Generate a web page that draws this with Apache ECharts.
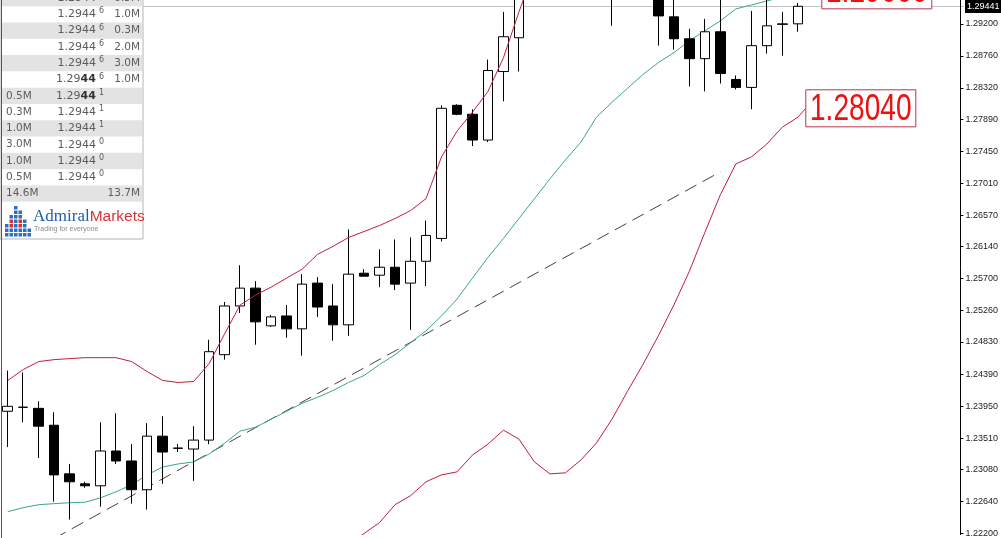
<!DOCTYPE html>
<html><head><meta charset="utf-8">
<script src="https://cdn.jsdelivr.net/npm/echarts@6/dist/echarts.min.js"></script>
<style>html,body{margin:0;padding:0;background:#fff;overflow:hidden}#c{width:1001px;height:538px}</style>
</head><body><div id="c"></div>
<script>
// ---- data ----
const categories = Array.from({length: 62}, (_, i) => 'Bar ' + (i + 1));
const opens = [
1.23879,1.23933,1.23919,1.23687,1.23019,1.22882,1.22855,1.23333,1.23196,1.22801,
1.23537,1.23374,1.23360,1.23483,1.24656,1.25325,1.25570,1.25052,1.25188,1.25011,
1.25639,1.25325,1.25066,1.25775,1.25748,1.25857,1.25639,1.25939,1.26253,1.28081,
1.27958,1.27604,1.28545,1.29009,1.2970,1.3005,1.3040,1.3075,1.3090,1.3060,
1.3005,1.3030,1.3010,1.29296,1.28995,1.28722,1.29091,1.28436,1.28327,1.28900,
1.29193,1.29200];
const closes = [
1.23947,1.23935,1.23674,1.23005,1.22910,1.22855,1.23333,1.23196,1.22801,1.23537,
1.23319,1.23370,1.23483,1.24697,1.25325,1.25570,1.25107,1.25175,1.25011,1.25625,
1.25311,1.25066,1.25762,1.25734,1.25857,1.25625,1.25939,1.26294,1.28040,1.27958,
1.27604,1.28559,1.29023,1.2970,1.3005,1.3040,1.3075,1.3090,1.3060,1.3005,
1.3030,1.3010,1.29309,1.28995,1.28722,1.29091,1.28518,1.28327,1.28900,1.29173,
1.29200,1.29441];
const lows = [
1.23387,1.23728,1.23237,1.22637,1.22391,1.22828,1.22569,1.23155,1.22610,1.22528,
1.22882,1.23319,1.22923,1.23428,1.24588,1.25229,1.24793,1.25038,1.24888,1.24643,
1.25175,1.24847,1.24916,1.25734,1.25584,1.25543,1.24997,1.25598,1.26212,1.27945,
1.27522,1.27576,1.28136,1.28545,1.2960,1.2990,1.3030,1.3060,1.3045,1.29173,
1.2990,1.2975,1.28900,1.28845,1.28340,1.28272,1.28381,1.28299,1.28027,1.28791,
1.28763,1.29091];
const highs = [
1.24438,1.24411,1.24015,1.23865,1.23155,1.22910,1.23728,1.23851,1.23428,1.23715,
1.23810,1.23428,1.23674,1.24861,1.25379,1.25884,1.25666,1.25202,1.25339,1.25762,
1.25721,1.25625,1.26376,1.25830,1.26103,1.26239,1.26266,1.26498,1.28081,1.28095,
1.28027,1.28709,1.29364,1.2985,1.3020,1.3055,1.3090,1.3110,1.3105,1.3070,
1.3045,1.3040,1.3015,1.2960,1.29132,1.29268,1.2958,1.28491,1.29377,1.2958,
1.29364,1.29487];
const upperBand = [
1.24302,1.24452,1.24561,1.24588,1.24602,1.24615,1.24615,1.24615,1.24561,1.24424,
1.24302,1.24274,1.24288,1.24533,1.24943,1.25339,1.25475,1.25584,1.25707,1.25830,
1.26034,1.26144,1.26266,1.26348,1.26430,1.26526,1.26635,1.26799,1.27372,1.27726,
1.27986,1.28272,1.28736,1.29364,1.2995,1.3050,1.3095,1.3130,1.3150,1.3160,
1.3170,1.3175,1.3172,1.3165,1.3160,1.3155,1.3150,1.3148,1.3145,1.3143,
1.3142,1.3140];
const middleBand = [
1.22500,1.22555,1.22596,1.22610,1.22623,1.22630,1.22691,1.22773,1.22869,1.23005,
1.23114,1.23155,1.23183,1.23292,1.23442,1.23606,1.23660,1.23769,1.23879,1.23988,
1.24070,1.24165,1.24274,1.24370,1.24520,1.24656,1.24820,1.24984,1.25188,1.25420,
1.25707,1.25993,1.26253,1.26526,1.26799,1.27071,1.27331,1.27576,1.27917,1.28122,
1.28313,1.28504,1.28668,1.28804,1.28968,1.29105,1.29241,1.29405,1.29459,1.29514,
1.29568,1.29623];
const lowerBand = [
1.2070,1.2066,1.2063,1.2064,1.2065,1.2066,1.2077,1.2093,1.2118,1.2159,
1.2185,1.2196,1.2200,1.2185,1.2158,1.2148,1.2158,1.2168,1.2178,1.2183,
1.2186,1.2195,1.2205,1.22200,1.22350,1.22596,1.22719,1.22910,1.23005,1.23046,
1.23278,1.23428,1.23619,1.23496,1.23183,1.23019,1.23033,1.23210,1.23442,1.23769,
1.24151,1.24520,1.24916,1.25339,1.25802,1.26335,1.26853,1.27276,1.27372,1.27549,
1.27781,1.27917];
const trendIdx = [3, 46];
const trendVals = [1.22132, 1.27167];
const tickLabels = ['1.29200','1.28760','1.28320','1.27890','1.27450','1.27010','1.26570','1.26140',
 '1.25700','1.25260','1.24830','1.24390','1.23950','1.23510','1.23080','1.22640','1.22200'];
const currentPrice = 1.29441;
const yMin = 1.221864, yMax = 1.295275;
const bandLabelTexts = ['1.28040', '1.29660'];
const bandLabelValues = [1.28040, 1.29660];
// depth of market panel
const bookBid   = ['','','','','','','0.5M','0.3M','1.0M','3.0M','1.0M','0.5M','14.6M'];
const bookPrice = ['1.2944','1.2944','1.2944','1.2944','1.2944','1.2944','1.2944','1.2944','1.2944','1.2944','1.2944','1.2944',''];
const bookSup   = ['7','6','6','6','6','6','1','1','1','0','0','0',''];
const bookAsk   = ['0.5M','1.0M','0.3M','2.0M','3.0M','1.0M','','','','','','','13.7M'];
const bookBold  = [false,false,false,false,false,true,true,false,false,false,false,false,false];

// ---- chart ----
const chart = echarts.init(document.getElementById('c'));
const N = categories.length;
const axisX = 964;
const gridLeft = 4 - (axisX - 4) / (2 * N - 1);
const tickValues = tickLabels.map(Number);
const candleData = opens.map((o, i) => [o, closes[i], lows[i], highs[i]]);
const trendData = categories.map(() => null);
trendIdx.forEach((ix, k) => { trendData[ix] = trendVals[k]; });

const option = {
  animation: false,
  backgroundColor: '#ffffff',
  grid: { left: gridLeft, top: 0, right: 1001 - axisX, bottom: 0 },
  xAxis: { type: 'category', data: categories, boundaryGap: true, show: false },
  yAxis: {
    type: 'value', position: 'right', min: yMin, max: yMax,
    splitLine: { show: false },
    axisLine: { show: true, lineStyle: { color: '#000', width: 1 } },
    axisTick: { show: true, length: 3, lineStyle: { color: '#000' }, customValues: tickValues },
    axisLabel: { customValues: tickValues, formatter: v => v.toFixed(5), color: '#222',
      fontSize: 9, fontFamily: 'Liberation Sans', margin: 5 }
  },
  series: [
    { type: 'line', data: trendData, connectNulls: true, symbol: 'none', silent: true,
      lineStyle: { color: '#4e3c3c', width: 1, type: [13, 7] }, z: 1 },
    { type: 'line', data: middleBand, symbol: 'none', silent: true,
      lineStyle: { color: '#3aa597', width: 1 }, z: 2 },
    { type: 'line', data: upperBand, symbol: 'none', silent: true,
      lineStyle: { color: '#c21d3c', width: 1 }, z: 4 },
    { type: 'line', data: lowerBand, symbol: 'none', silent: true,
      lineStyle: { color: '#c21d3c', width: 1 }, z: 4 },
    { type: 'candlestick', data: candleData, barWidth: 10, z: 3,
      itemStyle: { color: '#ffffff', color0: '#000000', borderColor: '#000000', borderColor0: '#000000', borderWidth: 1 } }
  ]
};
chart.setOption(option);

// ---- overlays ----
const g = [];
const lastIdx = closes.length - 1;
// current price line and tag
const cp = chart.convertToPixel({ gridIndex: 0 }, [0, currentPrice]);
const cpy = Math.round(cp[1]) + 0.5;
g.push({ type: 'line', shape: { x1: 0, y1: cpy, x2: axisX, y2: cpy }, style: { stroke: '#c4c4c4', lineWidth: 1 }, z: 0 });
g.push({ type: 'rect', shape: { x: axisX + 1, y: cpy - 6.5, width: 37, height: 13 }, style: { fill: '#000' }, z: 150 });
g.push({ type: 'text', x: axisX + 3, y: cpy + 0.5, z: 151, style: { text: currentPrice.toFixed(5), fontSize: 9, fontFamily: 'Liberation Sans', fill: '#fff', verticalAlign: 'middle' } });

const anchors = [lowerBand[lastIdx], middleBand[lastIdx]];
const gaps = [8, 24];
bandLabelValues.forEach((v, k) => {
  const a = chart.convertToPixel({ gridIndex: 0 }, [lastIdx, anchors[k]]);
  const p = chart.convertToPixel({ gridIndex: 0 }, [lastIdx, v]);
  const bx = p[0] + gaps[k];
  g.push({ type: 'line', shape: { x1: a[0], y1: a[1], x2: bx, y2: p[1] }, style: { stroke: '#c21d3c', lineWidth: 1 }, z: 100 });
  g.push({ type: 'rect', shape: { x: bx, y: p[1] - 18.5, width: 110, height: 37 }, style: { fill: '#fff', stroke: '#b8344a', lineWidth: 1 }, z: 100 });
  g.push({ type: 'text', x: bx + 55, y: p[1] + 1, scaleX: 0.76, z: 101,
    style: { text: bandLabelTexts[k], fontSize: 37, fontFamily: 'Liberation Sans', fill: '#ee1111', align: 'center', verticalAlign: 'middle' } });
});

// depth-of-market panel
g.push({ type: 'rect', shape: { x: 0, y: -10, width: 143, height: 249 }, style: { fill: '#fff', stroke: '#b5b5b5', lineWidth: 1 }, z: 200 });
const rowH = 16.3;
const txt = '#5c5c5c';
const fam = 'DejaVu Sans';
bookPrice.forEach((pr, r) => {
  const cy = -2 + rowH * r;
  if (r % 2 === 0) g.push({ type: 'rect', shape: { x: 1, y: cy - rowH / 2, width: 141, height: rowH }, style: { fill: '#e3e3e3' }, z: 201 });
  if (bookBid[r]) g.push({ type: 'text', x: 6, y: cy, z: 202, style: { text: bookBid[r], fontSize: 10.5, fontFamily: fam, fill: txt, align: 'left', verticalAlign: 'middle' } });
  if (bookAsk[r]) g.push({ type: 'text', x: 140, y: cy, z: 202, style: { text: bookAsk[r], fontSize: 10.5, fontFamily: fam, fill: txt, align: 'right', verticalAlign: 'middle' } });
  if (pr) {
    const t = bookBold[r] ? '{p|' + pr.slice(0, 4) + '}{b|' + pr.slice(4) + '}{s|' + bookSup[r] + '}' : '{p|' + pr + '}{s|' + bookSup[r] + '}';
    g.push({ type: 'text', x: 104, y: cy, z: 202, style: { text: t, align: 'right', verticalAlign: 'middle',
      rich: { p: { fontSize: 11, fontFamily: fam, fill: txt, lineHeight: 14 },
              b: { fontSize: 11, fontFamily: fam, fill: '#333', fontWeight: 'bold', lineHeight: 14 },
              s: { fontSize: 8, fontFamily: fam, fill: txt, verticalAlign: 'top', padding: [0, 0, 0, 3], lineHeight: 14 } } } });
  }
});
// logo
const logoCols = [3, 5, 7, 6, 4, 2];
logoCols.forEach((h, c) => {
  for (let k = 0; k < h; k++) {
    g.push({ type: 'rect', shape: { x: 5 + c * 4.5, y: 233 - k * 4.5, width: 3.5, height: 3.5 },
      style: { fill: (k === 2 || k === 3) && c % 2 === 1 ? '#d8322f' : '#2d6fbf' }, z: 202 });
  }
});
g.push({ type: 'text', x: 33, y: 217, z: 202, style: { text: '{a|Admiral}{m|Markets}', verticalAlign: 'middle',
  rich: { a: { fontSize: 17, fontFamily: 'Liberation Serif', fill: '#1d5ea9' }, m: { fontSize: 15.5, fontFamily: 'Liberation Sans', fill: '#d9323a' } } } });
g.push({ type: 'text', x: 34, y: 229, z: 202, style: { text: 'Trading for everyone', fontSize: 7, fontFamily: 'Liberation Sans', fill: '#8a8a8a', verticalAlign: 'middle' } });
// left frame
g.push({ type: 'line', shape: { x1: 1.5, y1: 0, x2: 1.5, y2: 538 }, style: { stroke: '#555', lineWidth: 1 }, z: 300 });
chart.setOption({ graphic: g });
</script></body></html>
